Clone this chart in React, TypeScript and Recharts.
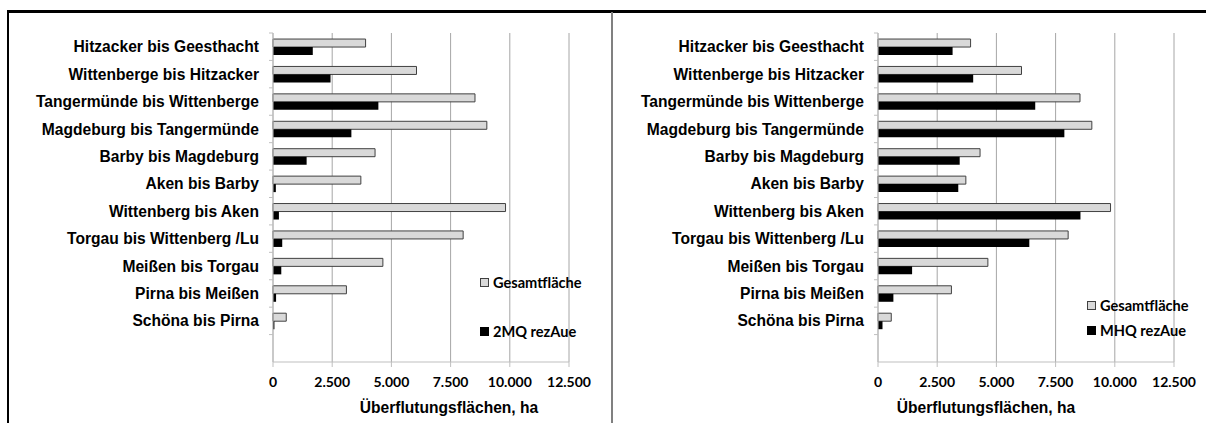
import React from "react";
import { BarChart, Bar, XAxis, YAxis, CartesianGrid, Legend } from "recharts";

// Flussabschnitte, von oben nach unten (letzte Zeile leer wie im Original)
const abschnitte = [
  "Hitzacker bis Geesthacht",
  "Wittenberge bis Hitzacker",
  "Tangermünde bis Wittenberge",
  "Magdeburg bis Tangermünde",
  "Barby bis Magdeburg",
  "Aken bis Barby",
  "Wittenberg bis Aken",
  "Torgau bis Wittenberg /Lu",
  "Meißen bis Torgau",
  "Pirna bis Meißen",
  "Schöna bis Pirna",
  "",
];

const gesamtflaeche = [3910, 6060, 8530, 9030, 4310, 3710, 9820, 8030, 4640, 3100, 560, null];
const rezAue2MQ = [1680, 2430, 4450, 3310, 1420, 120, 250, 390, 350, 130, 60, null];
const rezAueMHQ = [3150, 4020, 6640, 7870, 3450, 3390, 8550, 6390, 1440, 650, 190, null];

const xTicks = [0, 2500, 5000, 7500, 10000, 12500];

const CHART_W = 605;
const CHART_H = 423;
const PLOT_LEFT = 273;
const PLOT_TOP = 33;
const PLOT_BOTTOM = 362;
const PLOT_RIGHT = 569;
const BAND = (PLOT_BOTTOM - PLOT_TOP) / abschnitte.length;

const ARIAL = "'Liberation Sans', Arial, sans-serif";
const CALIBRI = "Lato, 'Open Sans', sans-serif";

function formatDE(v: number) {
  return v.toLocaleString("de-DE");
}

function CategoryTick(props: any) {
  const { y, payload } = props;
  return (
    <g>
      <line x1={PLOT_LEFT - 4} x2={PLOT_LEFT} y1={y - BAND / 2} y2={y - BAND / 2} stroke="#bfbfbf" />
      {payload.value ? (
        <text
          x={PLOT_LEFT - 14}
          y={y}
          dy="0.36em"
          textAnchor="end"
          fontFamily={ARIAL}
          fontWeight="bold"
          fontSize={15.6}
          fill="#000"
        >
          {payload.value}
        </text>
      ) : null}
    </g>
  );
}

type Panel = {
  values: (number | null)[];
  name: string;
  legendX: number;
  legendY: number[];
  titleX: number;
};

function legendContent(p: Panel) {
  const items = [
    { label: "Gesamtfläche", fill: "#d9d9d9", stroke: "#404040" },
    { label: p.name, fill: "#000", stroke: "#000" },
  ];
  // zero-size box so the legend takes no room from the plot
  return () => (
    <div style={{ position: "relative", width: 0, height: 0 }}>
      {items.map((it, i) => (
        <div
          key={it.label}
          style={{
            position: "absolute",
            left: 0,
            top: p.legendY[i] - 9,
            height: 18,
            display: "flex",
            alignItems: "center",
            whiteSpace: "nowrap",
            fontFamily: CALIBRI,
            fontWeight: 700,
            fontSize: 14.6,
            color: "#000",
          }}
        >
          <span
            style={{
              width: 7,
              height: 7,
              background: it.fill,
              border: `1px solid ${it.stroke}`,
              marginRight: 4,
            }}
          />
          {it.label}
        </div>
      ))}
    </div>
  );
}

function FlaechenChart(p: Panel) {
  const data = abschnitte.map((name, i) => ({
    name,
    gesamt: gesamtflaeche[i],
    rez: p.values[i],
  }));
  return (
    <div style={{ position: "relative", width: CHART_W, height: CHART_H }}>
      <BarChart
        width={CHART_W}
        height={CHART_H}
        data={data}
        layout="vertical"
        margin={{ top: PLOT_TOP, right: CHART_W - PLOT_RIGHT, bottom: 0, left: 0 }}
        barCategoryGap="22%"
        barGap={0}
      >
        <CartesianGrid horizontal={false} stroke="#a6a6a6" />
        <XAxis
          type="number"
          domain={[0, 12500]}
          ticks={xTicks}
          tickFormatter={formatDE}
          height={CHART_H - PLOT_BOTTOM}
          stroke="#bfbfbf"
          tickSize={5}
          tickMargin={10}
          tick={{ fontFamily: CALIBRI, fontWeight: 700, fontSize: 14, fill: "#000" }}
        />
        <YAxis
          type="category"
          dataKey="name"
          width={PLOT_LEFT}
          stroke="#bfbfbf"
          tickLine={false}
          interval={0}
          tick={<CategoryTick />}
        />
        <Legend
          content={legendContent(p)}
          wrapperStyle={{ position: "absolute", left: p.legendX, top: 0, width: 0, height: 0 }}
        />
        <Bar dataKey="gesamt" name="Gesamtfläche" fill="#d9d9d9" stroke="#404040" strokeWidth={1} isAnimationActive={false} />
        <Bar dataKey="rez" name={p.name} fill="#000" isAnimationActive={false} />
      </BarChart>
      <div
        style={{
          position: "absolute",
          left: p.titleX - 120,
          width: 240,
          top: 399,
          lineHeight: "18px",
          textAlign: "center",
          fontFamily: ARIAL,
          fontWeight: 700,
          fontSize: 15.6,
          color: "#000",
        }}
      >
        Überflutungsflächen, ha
      </div>
    </div>
  );
}

export default function App() {
  return (
    <div style={{ position: "absolute", left: 0, top: 0, width: 1206, height: 423, background: "#fff", overflow: "hidden" }}>
      <div style={{ position: "absolute", left: 0, top: 0 }}>
        <FlaechenChart values={rezAue2MQ} name="2MQ rezAue" legendX={480} legendY={[282.5, 331]} titleX={449} />
      </div>
      <div style={{ position: "absolute", left: CHART_W, top: 0 }}>
        <FlaechenChart values={rezAueMHQ} name="MHQ rezAue" legendX={482} legendY={[305, 330.5]} titleX={381} />
      </div>
      <div style={{ position: "absolute", left: 7, top: 9.5, width: 1199, height: 3, background: "#000" }} />
      <div style={{ position: "absolute", left: 6.5, top: 9.5, width: 2.5, height: 414, background: "#000" }} />
      <div style={{ position: "absolute", left: 611, top: 12, width: 2, height: 411, background: "#808080" }} />
    </div>
  );
}
